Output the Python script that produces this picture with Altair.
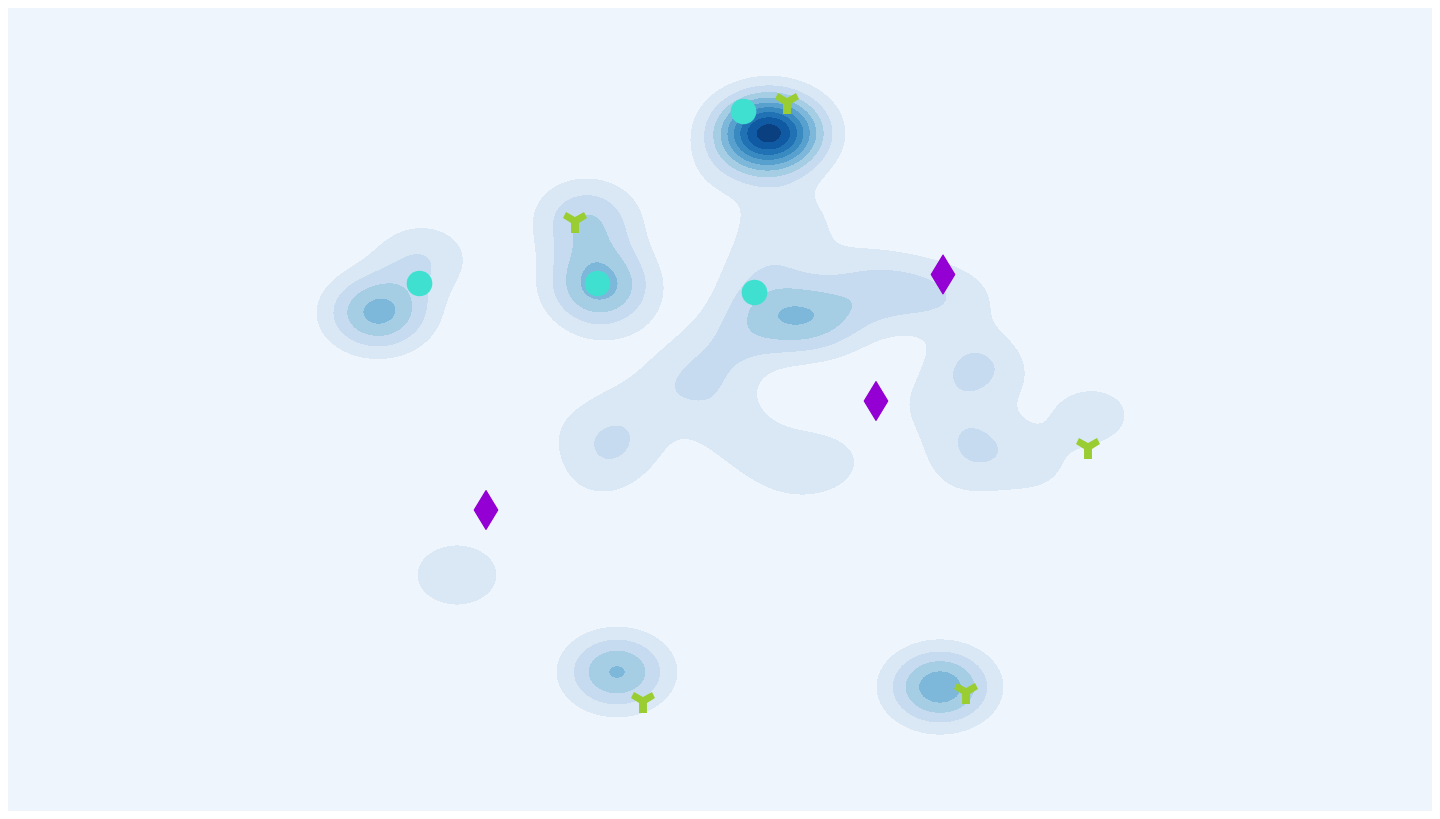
import altair as alt
import numpy as np
import pandas as pd

# density sample locations (screen-like units) and their weights
blob_x = [769, 788, 718,
          755, 785, 812, 832, 875, 918, 860, 770, 755,
          722, 688, 625, 730, 745,
          620, 598, 575,
          790, 828,
          978, 977, 1040, 925, 960, 965, 1093,
          378, 422,
          600, 586, 592, 600,
          617, 940, 457]
blob_y = [133, 222, 178,
          318, 318, 320, 318, 295, 292, 268, 285, 262,
          352, 385, 400, 420, 448,
          443, 478, 430,
          468, 462,
          368, 444, 472, 405, 482, 300, 415,
          313, 258,
          286, 215, 245, 320,
          672, 687, 575]
blob_w = [5.2, 0.8, 0.3,
          0.66, 0.6, 0.95, 0.45, 0.62, 0.75, 0.35, 0.35, 0.4,
          0.7, 0.8, 0.35, 0.45, 0.35,
          0.78, 0.45, 0.3,
          0.55, 0.55,
          1.15, 0.97, 0.5, 0.45, 0.3, 0.5, 0.8,
          2.35, 1.0,
          2.15, 1.3, 0.55, 0.3,
          2.25, 2.6, 1.0]

# overlaid markers
circle_x = [743.5, 419.5, 597.5, 754.5]
circle_y = [111.5, 283.5, 283.5, 292.5]
diamond_x = [943, 876, 486]
diamond_y = [274.5, 401, 510]
ymark_x = [787, 575, 1088, 643, 966]
ymark_y = [103, 222, 448, 702, 693]

level_colors = ["#dae8f5", "#c6dbef", "#a5cde3", "#7db8da", "#58a1cf",
                "#3a8ac2", "#2171b5", "#0f5aa3", "#0a3f80"]

X0, X1, Y0, Y1 = 8, 1432, 8, 811
SX, SY, STEP = 36.0, 27.0, 0.55

px, py, pw = np.array(blob_x, float), np.array(blob_y, float), np.array(blob_w)
cols = np.arange(X0, X1) + 0.5
gx = np.exp(-((cols[None, :] - px[:, None]) ** 2) / (2 * SX ** 2))

runs = []
for y in range(Y0, Y1):
    gy = np.exp(-((y + 0.5 - py) ** 2) / (2 * SY ** 2))
    dens = (pw * gy) @ gx
    lev = np.minimum(np.floor(dens / STEP).astype(int), len(level_colors))
    cut = np.flatnonzero(np.diff(lev)) + 1
    for s, e in zip(np.r_[0, cut], np.r_[cut, len(lev)]):
        if lev[s] > 0:
            runs.append((X0 + s, X0 + e, y, y + 1, int(lev[s])))
cells = pd.DataFrame(runs, columns=["x0", "x1", "y0", "y1", "level"])

xscale = alt.Scale(domain=[X0, X1], nice=False, zero=False)
yscale = alt.Scale(domain=[Y0, Y1], nice=False, zero=False, reverse=True)

contours = alt.Chart(cells).mark_rect(strokeWidth=0).encode(
    x=alt.X("x0:Q", scale=xscale, axis=None),
    x2="x1:Q",
    y=alt.Y("y0:Q", scale=yscale, axis=None),
    y2="y1:Q",
    color=alt.Color("level:O", scale=alt.Scale(domain=list(range(1, 10)), range=level_colors), legend=None),
)

circles = alt.Chart(pd.DataFrame({"x": circle_x, "y": circle_y})).mark_point(
    shape="circle", filled=True, opacity=1, size=660, color="#40E0D0"
).encode(x=alt.X("x:Q", scale=xscale), y=alt.Y("y:Q", scale=yscale))

diamonds = alt.Chart(pd.DataFrame({"x": diamond_x, "y": diamond_y})).mark_point(
    shape="M0,-1L0.6,0L0,1L-0.6,0Z", filled=True, opacity=1, size=1480,
    color="#9400D3", stroke="#9400D3", strokeWidth=1.5, strokeJoin="round"
).encode(x=alt.X("x:Q", scale=xscale), y=alt.Y("y:Q", scale=yscale))

ymarks = alt.Chart(pd.DataFrame({"x": ymark_x, "y": ymark_y})).mark_point(
    shape="M-0.33,0.92L0.33,0.92L0.33,0.08L1,-0.33L0.75,-0.83L0,-0.42L-0.75,-0.83L-1,-0.33L-0.33,0.08Z",
    filled=True, opacity=1, size=576, color="#9ACD32"
).encode(x=alt.X("x:Q", scale=xscale), y=alt.Y("y:Q", scale=yscale))

chart = alt.layer(contours, circles, diamonds, ymarks).properties(
    width=1424, height=803, background="#EEF5FC", padding=0,
    autosize=alt.AutoSizeParams(type="none"),
).configure_view(strokeWidth=0)

chart.save("out.html", embed_options={"renderer": "svg", "actions": False})
